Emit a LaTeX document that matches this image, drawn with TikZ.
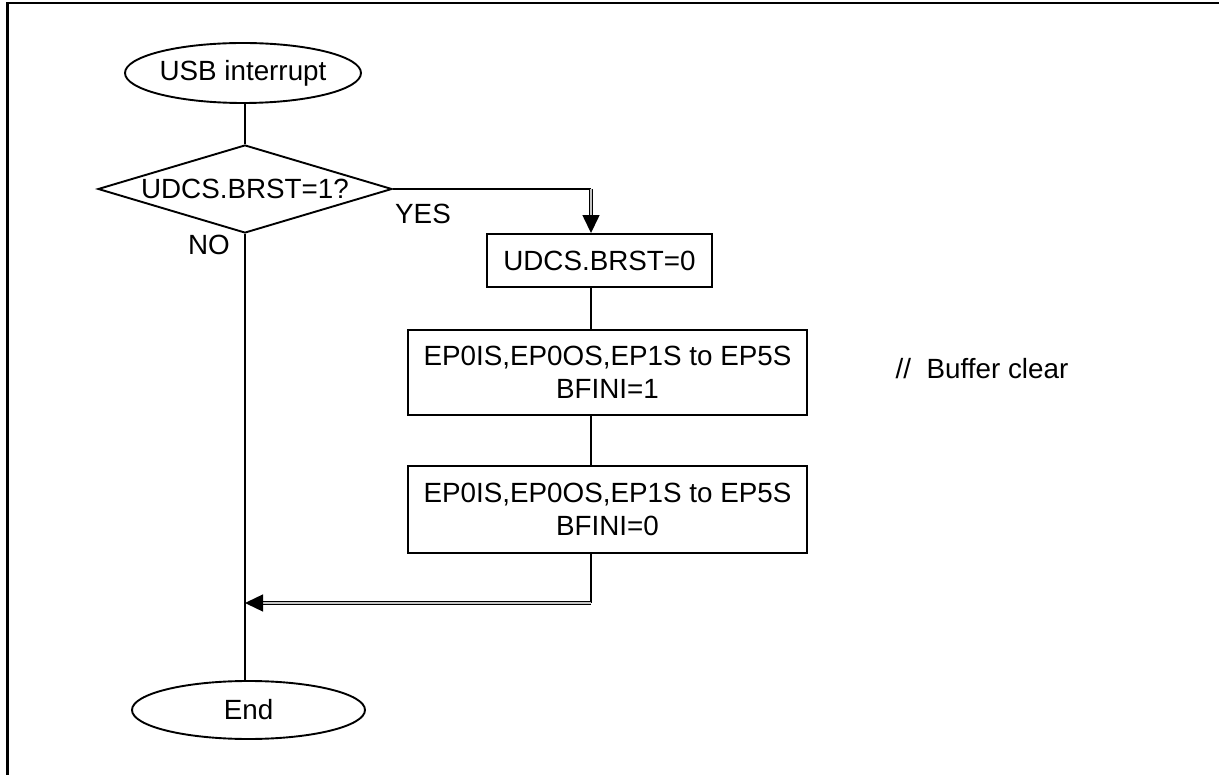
\documentclass[tikz,border=0pt]{standalone}
\usepackage{fontspec}
\setmainfont{Liberation Sans}
\usetikzlibrary{shapes.geometric,arrows.meta}
\begin{document}
\begin{tikzpicture}[x=1pt,y=-1pt,line width=1.9pt,
  font=\fontsize{27.8}{33}\selectfont,
  term/.style={draw,ellipse,minimum width=234pt,minimum height=60pt,inner sep=0pt},
  decis/.style={draw,diamond,minimum width=294pt,minimum height=88pt,inner sep=0pt,shape aspect=3.34},
  proc/.style={draw,rectangle,align=center,inner sep=0pt},
  lbl/.style={inner sep=0pt},
  dblarrow/.style={line width=1.4pt,double=gray!45,double distance=1.4pt,
    -{Triangle[length=18pt,width=17pt,fill=black]}}]
\useasboundingbox (0,0) rectangle (1219,775);
\draw[line width=2.6pt] (7.3,775) -- (7.3,3.2) -- (1219,3.2);

\node[term] (start) at (243,73) {USB interrupt};
\node[decis] (dec) at (245,189) {UDCS.BRST=1?};
\node[proc,minimum width=225pt,minimum height=53pt] (b1) at (599.5,260.5) {UDCS.BRST=0};
\node[proc,minimum width=399pt,minimum height=85pt] (b2) at (607.5,372.5) {EP0IS,EP0OS,EP1S to EP5S\\BFINI=1};
\node[proc,minimum width=399pt,minimum height=87pt] (b3) at (607.5,509.5) {EP0IS,EP0OS,EP1S to EP5S\\BFINI=0};
\node[term,minimum width=233pt,minimum height=58pt] (end) at (248.5,710) {End};

\node[lbl] (yes) at (423,214) {YES};
\node[lbl] (no) at (209,245) {NO};
\node[lbl] (note) at (982,369) {//\ \ Buffer clear};

\coordinate (c1) at (591,189);
\coordinate (c2) at (591,603);

\draw (start.south -| dec.north) -- (dec.north);
\draw (dec.east) -- (c1);
\draw[dblarrow] (c1) -- (c1 |- b1.north);
\draw (b1.south -| c1) -- (b2.north -| c1);
\draw (b2.south -| c1) -- (b3.north -| c1);
\draw (b3.south -| c1) -- (c2);
\draw[dblarrow] (c2) -- (c2 -| dec.south);
\draw (dec.south) -- (dec.south |- end.north);
\end{tikzpicture}
\end{document}
